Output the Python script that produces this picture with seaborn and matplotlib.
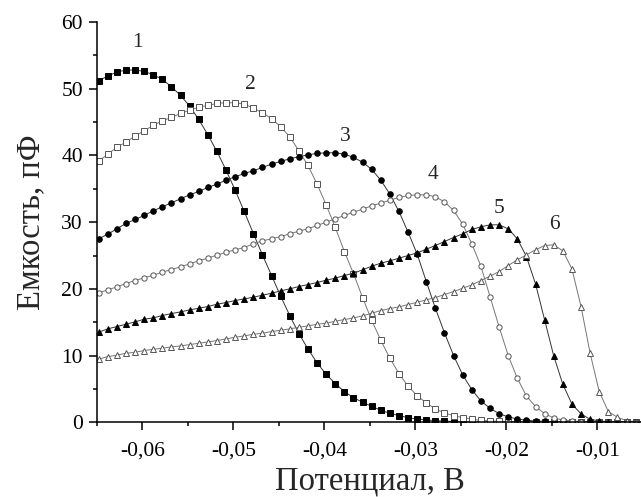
import numpy as np
import pandas as pd
import matplotlib
matplotlib.use("Agg")
import matplotlib.pyplot as plt
import matplotlib.ticker as mticker
import seaborn as sns

# potential grid, V (step 1 mV)
potential = np.round(np.arange(61) * 0.001 - 0.0648, 4)

# capacitance, pF
cap_1 = [51.2, 51.9, 52.5, 52.8, 52.8, 52.6, 52.1, 51.4, 50.3, 49.0,
         47.4, 45.4, 43.1, 40.6, 37.8, 34.8, 31.6, 28.3, 25.1, 22.0,
         18.9, 16.0, 13.3, 11.0, 8.9, 7.2, 5.8, 4.6, 3.7, 3.0,
         2.4, 1.8, 1.35, 1.0, 0.7, 0.5, 0.35, 0.25, 0.18, 0.12,
         0.08, 0.06, 0.05, 0.04, 0.03, 0.03, 0.02, 0.02, 0.02, 0.01,
         0.01, 0.01, 0.01, 0.01, 0.0, 0.0, 0.0, 0.0, 0.0, 0.0, 0.0]
cap_2 = [39.1, 40.2, 41.2, 42.0, 42.9, 43.7, 44.5, 45.2, 45.7, 46.3,
         46.8, 47.2, 47.5, 47.8, 47.9, 47.9, 47.7, 47.1, 46.4, 45.5,
         44.3, 42.8, 40.7, 38.5, 35.7, 32.6, 29.2, 25.6, 22.3, 18.7,
         15.3, 12.3, 9.6, 7.3, 5.4, 4.0, 2.9, 2.0, 1.4, 1.0,
         0.7, 0.45, 0.3, 0.2, 0.14, 0.1, 0.08, 0.06, 0.05, 0.04,
         0.03, 0.03, 0.02, 0.02, 0.02, 0.01, 0.01, 0.01, 0.01, 0.0, 0.0]
cap_3 = [27.5, 28.2, 29.0, 29.8, 30.4, 31.0, 31.7, 32.3, 32.9, 33.5,
         34.1, 34.6, 35.2, 35.7, 36.3, 36.8, 37.3, 37.7, 38.2, 38.7,
         39.1, 39.5, 39.8, 40.1, 40.3, 40.4, 40.4, 40.2, 39.7, 39.0,
         37.9, 36.3, 34.2, 31.6, 28.5, 25.2, 21.1, 17.1, 13.4, 10.0,
         7.1, 4.9, 3.2, 2.1, 1.3, 0.8, 0.5, 0.3, 0.2, 0.13,
         0.09, 0.06, 0.05, 0.04, 0.03, 0.02, 0.02, 0.01, 0.01, 0.01, 0.0]
cap_4 = [19.4, 19.85, 20.3, 20.8, 21.25, 21.65, 22.05, 22.5, 22.9, 23.3,
         23.75, 24.2, 24.6, 25.05, 25.5, 25.85, 26.2, 26.75, 27.2, 27.5,
         27.85, 28.25, 28.65, 29.0, 29.5, 30.0, 30.5, 31.0, 31.5, 31.95,
         32.45, 32.85, 33.3, 33.7, 34.0, 34.1, 34.1, 33.8, 33.05, 31.75,
         29.7, 26.75, 23.4, 18.85, 14.3, 10.0, 6.6, 3.95, 2.35, 1.3,
         0.65, 0.35, 0.2, 0.12, 0.08, 0.06, 0.05, 0.04, 0.03, 0.03, 0.02]
cap_5 = [13.5, 14.0, 14.35, 14.7, 15.05, 15.45, 15.65, 16.0, 16.3, 16.55,
         16.85, 17.1, 17.35, 17.7, 17.95, 18.25, 18.5, 18.75, 19.05, 19.35,
         19.7, 20.0, 20.35, 20.65, 20.95, 21.3, 21.6, 22.0, 22.35, 22.85,
         23.4, 23.85, 24.2, 24.6, 25.0, 25.4, 25.95, 26.5, 27.1, 27.7,
         28.25, 28.9, 29.3, 29.6, 29.6, 29.0, 27.5, 24.85, 20.75, 15.35,
         9.95, 5.7, 2.75, 1.25, 0.45, 0.2, 0.1, 0.06, 0.04, 0.03, 0.02]
cap_6 = [9.45, 9.85, 10.05, 10.35, 10.5, 10.75, 10.95, 11.1, 11.3, 11.45,
         11.65, 11.85, 12.05, 12.25, 12.5, 12.75, 12.95, 13.2, 13.35, 13.6,
         13.8, 14.0, 14.25, 14.45, 14.7, 14.85, 15.15, 15.4, 15.65, 15.95,
         16.35, 16.75, 17.05, 17.3, 17.65, 18.0, 18.35, 18.7, 19.15, 19.6,
         20.1, 20.6, 21.25, 21.9, 22.6, 23.5, 24.35, 25.1, 25.85, 26.5,
         26.6, 25.7, 23.0, 17.35, 10.35, 4.6, 1.6, 0.75, 0.25, 0.1, 0.05]

curve_names = ["1", "2", "3", "4", "5", "6"]
label_x = [-0.0605, -0.0481, -0.0377, -0.0281, -0.0208, -0.0147]
label_y = [56.9, 50.7, 42.9, 37.2, 32.1, 29.6]

sns.set_style("ticks")
plt.rcParams["font.family"] = ["Liberation Serif", "DejaVu Serif"]

fig = plt.figure(figsize=(6.41, 4.97), dpi=100)
ax = fig.add_axes([0.151, 0.1503, 0.852, 0.8054])

styles = [
    dict(marker="s", markersize=3.8, markerfacecolor="black", markeredgecolor="black", color="#333333"),
    dict(marker="s", markersize=3.8, markerfacecolor="white", markeredgecolor="#555555", color="#777777"),
    dict(marker="o", markersize=4.0, markerfacecolor="black", markeredgecolor="black", color="#333333"),
    dict(marker="o", markersize=3.8, markerfacecolor="white", markeredgecolor="#555555", color="#777777"),
    dict(marker="^", markersize=4.8, markerfacecolor="black", markeredgecolor="black", color="#333333"),
    dict(marker="^", markersize=4.8, markerfacecolor="white", markeredgecolor="#555555", color="#777777"),
]

for cap, st in zip([cap_1, cap_2, cap_3, cap_4, cap_5, cap_6], styles):
    df = pd.DataFrame({"U": potential, "C": cap})
    sns.lineplot(data=df, x="U", y="C", ax=ax, linewidth=0.7,
                 markeredgewidth=0.7, errorbar=None, clip_on=True, **st)

for name, lx, ly in zip(curve_names, label_x, label_y):
    ax.text(lx, ly, name, fontsize=15.5, ha="center", va="center")

ax.set_xlim(-0.065, -0.005)
ax.set_ylim(0, 60)
ax.xaxis.set_major_locator(mticker.FixedLocator([-0.06, -0.05, -0.04, -0.03, -0.02, -0.01]))
ax.xaxis.set_minor_locator(mticker.FixedLocator([-0.065, -0.055, -0.045, -0.035, -0.025, -0.015, -0.005]))
ax.xaxis.set_major_formatter(mticker.FuncFormatter(lambda v, p: f"{v:.2f}".replace(".", ",")))
ax.yaxis.set_major_locator(mticker.MultipleLocator(10))
ax.yaxis.set_minor_locator(mticker.MultipleLocator(5))

sns.despine(ax=ax)
for side in ["left", "bottom"]:
    ax.spines[side].set_linewidth(1.1)
    ax.spines[side].set_color("black")
ax.tick_params(which="major", length=6, width=1.1, labelsize=15.5, colors="black", pad=4)
ax.tick_params(which="minor", length=3.2, width=1.1, colors="black")
ax.tick_params(axis="x", which="major", pad=8)

ax.set_xlabel("Потенциал, В", fontsize=23.5, labelpad=4)
ax.set_ylabel("Емкость, пФ", fontsize=23.5, labelpad=11)

fig.savefig("out.png", dpi=100)
